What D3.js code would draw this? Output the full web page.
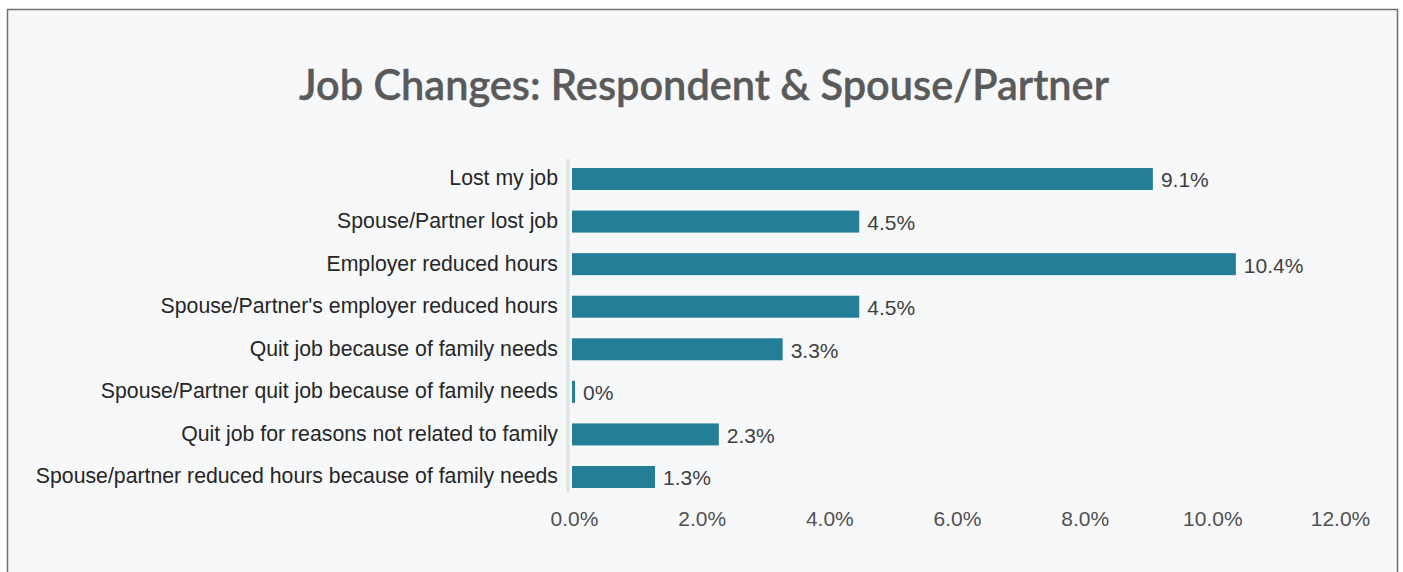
<!DOCTYPE html>
<html>
<head>
<meta charset="utf-8">
<script src="https://cdn.jsdelivr.net/npm/d3@7"></script>
<style>
  html, body { margin: 0; padding: 0; background: #fff; }
  svg { display: block; }
</style>
</head>
<body>
<div id="chart"></div>
<script>
// data
const categories = [
  "Lost my job",
  "Spouse/Partner lost job",
  "Employer reduced hours",
  "Spouse/Partner's employer reduced hours",
  "Quit job because of family needs",
  "Spouse/Partner quit job because of family needs",
  "Quit job for reasons not related to family",
  "Spouse/partner reduced hours because of family needs"
];
const values = [9.1, 4.5, 10.4, 4.5, 3.3, 0, 2.3, 1.3];
const tickValues = [0, 2, 4, 6, 8, 10, 12];
const title = "Job Changes: Respondent & Spouse/Partner";

const COLORS = {
  bar: "#237f97",
  frame: "#707070",
  bg: "#f7f8fa",
  axisLine: "#e0e1e3",
  label: "#262626",
  value: "#404040",
  tick: "#505050",
  title: "#5a5a5a"
};

const FONT = "Arial, 'Liberation Sans', sans-serif";
const W = 1403, H = 572;
const x0 = 572, x1 = 1338;

const svg = d3.select("#chart").append("svg")
  .attr("width", W).attr("height", H);

// frame
svg.append("rect")
  .attr("x", 7.5).attr("y", 9.5)
  .attr("width", 1390).attr("height", 600)
  .attr("fill", COLORS.bg)
  .attr("stroke", COLORS.frame)
  .attr("stroke-width", 1.5);

svg.append("text")
  .attr("x", 704).attr("y", 100)
  .attr("text-anchor", "middle")
  .attr("font-family", "Lato, 'Open Sans', sans-serif")
  .attr("font-size", 41.5)
  .attr("font-weight", 600)
  .attr("fill", COLORS.title)
  .attr("stroke", COLORS.title)
  .attr("stroke-width", 0.4)
  .text(title);

const x = d3.scaleLinear().domain([0, 12]).range([x0, x1]);
const y = d3.scaleBand().domain(categories).range([168, 488])
  .paddingInner(0.483).paddingOuter(0);

// axis line
svg.append("line")
  .attr("x1", x0 - 4).attr("x2", x0 - 4)
  .attr("y1", 159).attr("y2", 492)
  .attr("stroke", COLORS.axisLine)
  .attr("stroke-width", 3);

// bars
svg.append("g").selectAll("rect")
  .data(values)
  .join("rect")
  .attr("x", x(0))
  .attr("y", (d, i) => y(categories[i]))
  .attr("width", d => Math.max(x(d) - x(0), 3))
  .attr("height", y.bandwidth())
  .attr("fill", COLORS.bar);

// value labels
svg.append("g").selectAll("text")
  .data(values)
  .join("text")
  .attr("x", d => Math.max(x(d), x(0) + 3) + 8)
  .attr("y", (d, i) => y(categories[i]) + y.bandwidth() / 2)
  .attr("dy", "0.4em")
  .attr("font-family", FONT)
  .attr("font-size", 21)
  .attr("fill", COLORS.value)
  .text(d => d === 0 ? "0%" : d.toFixed(1) + "%");

// category labels
svg.append("g").selectAll("text")
  .data(categories)
  .join("text")
  .attr("x", x0 - 14)
  .attr("y", d => y(d) + y.bandwidth() / 2)
  .attr("dy", "0.3em")
  .attr("text-anchor", "end")
  .attr("font-family", FONT)
  .attr("font-size", 21.25)
  .attr("fill", COLORS.label)
  .text(d => d);

// x axis
const xAxis = d3.axisBottom(x)
  .tickValues(tickValues)
  .tickSize(0)
  .tickPadding(0)
  .tickFormat(d => d.toFixed(1) + "%");

const gx = svg.append("g")
  .attr("transform", "translate(2,511)")
  .call(xAxis);
gx.select(".domain").remove();
gx.selectAll("text")
  .attr("font-family", FONT)
  .attr("font-size", 21)
  .attr("fill", COLORS.tick);
</script>
</body>
</html>
